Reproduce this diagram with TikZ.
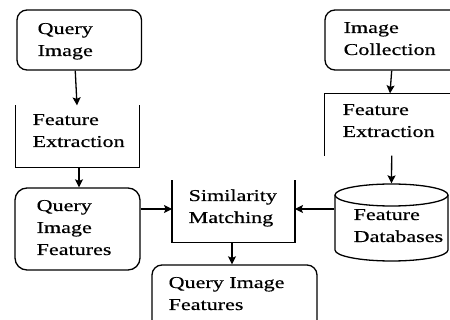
\documentclass[tikz,border=0pt]{standalone}
\usepackage{fontspec}
\setmainfont[FakeStretch=1.33,FakeBold=0.5]{Liberation Serif}
\usetikzlibrary{arrows.meta}
\begin{document}
\begin{tikzpicture}[x=1pt,y=-1pt,
  line width=1.3pt,
  arr/.style={-{Stealth[length=8pt,width=8pt,inset=1.5pt]}},
  rbox/.style={draw, rounded corners=10pt, inner sep=0pt},
  frame/.style={inner sep=0pt},
  lbl/.style={anchor=base west, inner sep=0pt, align=left,
              font=\fontsize{16.6}{22}\selectfont}]
\useasboundingbox (0,0) rectangle (450,320);
\clip (0,0) rectangle (450,320);

% boxes
\node[rbox, minimum width=124.5pt, minimum height=60pt] (qimg) at (79.25,40) {};
\node[frame, minimum width=123pt, minimum height=61pt] (fexL) at (77.5,136.5) {};
\node[rbox, rounded corners=12pt, minimum width=125pt, minimum height=82pt] (qif) at (77.5,229) {};
\node[frame, minimum width=121.6pt, minimum height=61pt] (sim) at (233.5,211.5) {};
\node[rbox, minimum width=165pt, minimum height=80pt] (out) at (234.5,305) {};
\node[rbox, minimum width=150pt, minimum height=60pt] (icol) at (400,40) {};
\node[frame, minimum width=150pt, minimum height=61pt] (fexR) at (400,124.5) {};
\node[frame, minimum width=113pt, minimum height=77pt] (cyl) at (391.5,222.5) {};

% open frames
\draw (fexL.north west) -- (fexL.south west) -- (fexL.south east) -- (fexL.north east);
\draw (sim.north west) -- (sim.south west) -- (sim.south east) -- (sim.north east);
\draw (fexR.north east) -- (fexR.north west) -- (fexR.south west);

% database cylinder
\draw (391.5,195) ellipse [x radius=56.5, y radius=11];
\draw (335,195) -- (335,250)
      .. controls (335,256.08) and (360.3,261) .. (391.5,261)
      .. controls (422.7,261) and (448,256.08) .. (448,250) -- (448,195);

% labels (placed by the baseline of their last line)
\node[lbl] (tqimg) at (37,56) {Query\\Image};
\node[lbl] (ticol) at (343,55) {Image\\Collection};
\node[lbl] (tfexL) at (32,147) {Feature\\Extraction};
\node[lbl] (tfexR) at (342,137) {Feature\\Extraction};
\node[lbl] (tqif) at (36,255) {Query\\Image\\Features};
\node[lbl] (tsim) at (188,223) {Similarity\\Matching};
\node[lbl] (tout) at (168,310) {Query Image\\Features};
\node[lbl] (tcyl) at (353,242) {Feature\\Databases};

% connectors
\draw[arr] ([xshift=-4pt]qimg.south) -- ([xshift=-0.5pt]fexL.north);
\draw[arr] ([xshift=1.5pt]fexL.south) -- ([xshift=1.5pt]qif.north);
\draw[arr] ([yshift=20pt]qif.east) -- ([yshift=2.5pt]sim.west);
\draw[arr] ([yshift=13.5pt]cyl.west) -- ([yshift=2.5pt]sim.east);
\draw[arr] ([xshift=-1.5pt]sim.south) -- ([xshift=-2.5pt]out.north);
\draw[arr] ([xshift=-8.3pt]icol.south) -- ([xshift=-10pt]fexR.north);
\draw[arr] ([xshift=-8.3pt]fexR.south) -- (cyl.north);
\end{tikzpicture}
\end{document}
